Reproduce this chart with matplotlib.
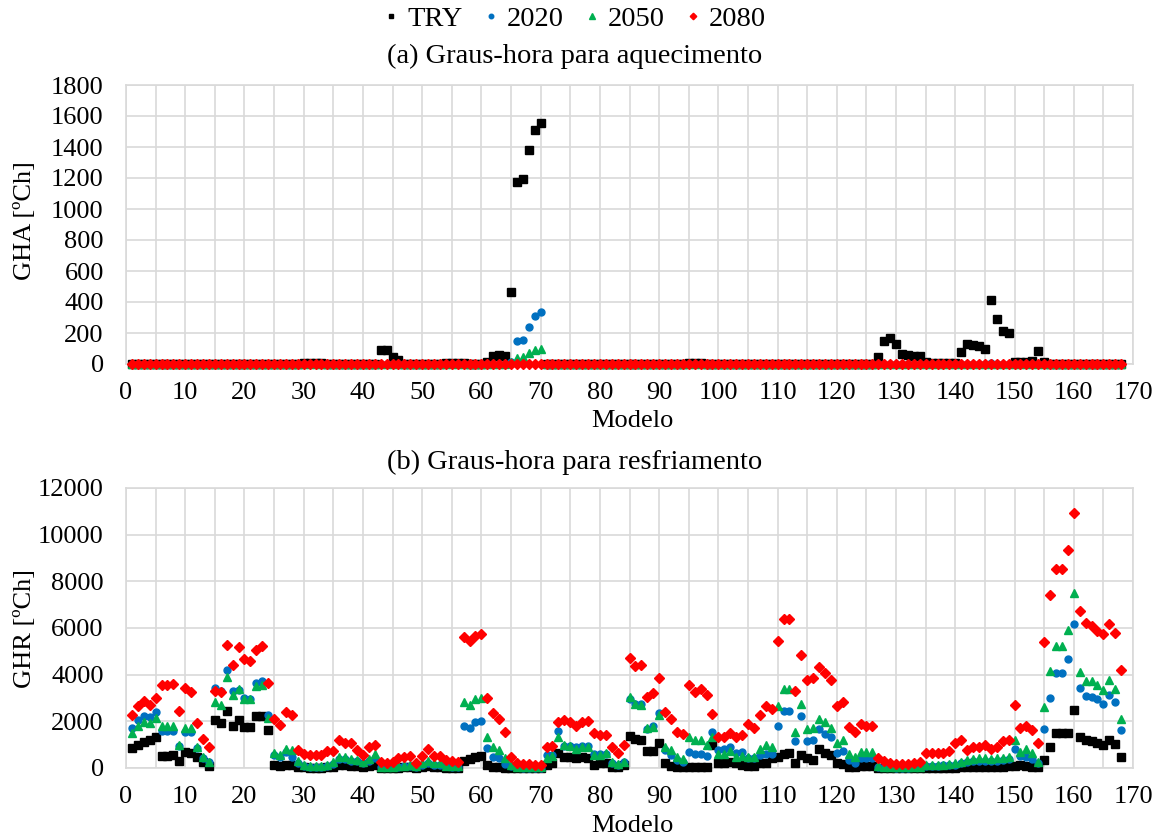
import numpy as np
import matplotlib
matplotlib.use("Agg")
import matplotlib.pyplot as plt
from matplotlib.ticker import MultipleLocator

plt.rcParams['font.family'] = ['Liberation Serif', 'DejaVu Serif']

# ---- data -------------------------------------------------------------
models = np.arange(1, 169)
series_names = ["TRY", "2020", "2050", "2080"]

# GHA (heating degree-hours) -- non-zero entries, all others are zero
gha_try_nonzero = {30: 8, 31: 8, 32: 8, 33: 8, 43: 93, 44: 93, 45: 43, 46: 28,
                   54: 5, 55: 5, 56: 5, 57: 5, 61: 10, 62: 50, 63: 60, 64: 50,
                   65: 463, 66: 1173, 67: 1195, 68: 1378, 69: 1507, 70: 1552,
                   95: 8, 96: 8, 97: 8,
                   127: 45, 128: 151, 129: 168, 130: 130, 131: 66, 132: 60,
                   133: 49, 134: 49, 135: 10, 136: 5, 137: 5, 138: 5, 139: 5,
                   140: 5, 141: 77, 142: 130, 143: 123, 144: 115, 145: 98,
                   146: 411, 147: 289, 148: 215, 149: 200, 150: 10, 151: 10,
                   152: 10, 153: 20, 154: 81, 155: 15}
gha_2020_nonzero = {65: 10, 66: 146, 67: 155, 68: 241, 69: 308, 70: 336, 146: 8}
gha_2050_nonzero = {65: 10, 66: 40, 67: 45, 68: 70, 69: 90, 70: 100}
gha_2080_nonzero = {}

# GHR (cooling degree-hours), models 1..168
ghr_try = [850, 990, 1110, 1210, 1320, 520, 520, 560, 300, 700,
           660, 490, 260, 90, 2070, 1930, 2460, 1810, 2070, 1760,
           1760, 2250, 2250, 1640, 130, 90, 130, 130, 60, 30,
           20, 20, 20, 40, 60, 150, 120, 100, 80, 50,
           80, 150, 10, 10, 10, 20, 30, 40, 10, 50,
           80, 40, 40, 20, 20, 20, 320, 370, 460, 520,
           130, 60, 30, 20, 10, 0, 0, 0, 0, 0,
           130, 200, 630, 490, 490, 420, 490, 420, 130, 200,
           230, 60, 30, 130, 1380, 1240, 1210, 710, 750, 1090,
           200, 90, 30, 30, 30, 30, 30, 30, 990, 230,
           230, 270, 200, 130, 90, 90, 200, 230, 420, 460,
           600, 660, 200, 560, 420, 350, 810, 630, 560, 200,
           170, 60, 30, 90, 90, 90, 10, 10, 10, 10,
           10, 10, 10, 10, 15, 15, 15, 15, 20, 20,
           30, 40, 40, 50, 50, 40, 50, 60, 70, 100,
           120, 100, 60, 40, 350, 880, 1500, 1500, 1500, 2480,
           1310, 1210, 1140, 1070, 990, 1210, 1020, 490]

ghr_2020 = [1710, 2040, 2220, 2190, 2400, 1570, 1570, 1570, 950, 1540,
            1540, 850, 450, 250, 3430, 3300, 4200, 3300, 3350, 3000,
            2950, 3650, 3710, 2270, 550, 480, 700, 490, 200, 80,
            50, 50, 50, 100, 180, 400, 380, 300, 280, 200,
            300, 450, 30, 30, 30, 50, 70, 100, 40, 150,
            230, 150, 150, 70, 50, 50, 1780, 1710, 1960, 2000,
            850, 460, 420, 170, 80, 30, 20, 20, 20, 20,
            560, 560, 1570, 950, 960, 900, 950, 950, 600, 600,
            600, 200, 150, 250, 2950, 2750, 2750, 1670, 1780, 2360,
            780, 560, 350, 270, 700, 590, 590, 520, 1530, 780,
            810, 920, 630, 700, 420, 420, 560, 600, 600, 1810,
            2430, 2430, 1170, 2250, 1170, 1210, 1670, 1470, 1310, 660,
            750, 350, 200, 420, 420, 420, 60, 40, 30, 20,
            20, 20, 30, 40, 80, 90, 90, 110, 130, 150,
            200, 250, 280, 300, 320, 300, 320, 350, 380, 810,
            520, 490, 370, 200, 1670, 3010, 4090, 4090, 4660, 6170,
            3440, 3080, 3050, 2940, 2750, 3110, 2820, 1640]

ghr_2050 = [1500, 1780, 1960, 1930, 2130, 1810, 1810, 1810, 990, 1710,
            1710, 920, 490, 270, 2820, 2720, 3900, 3110, 3370, 2960,
            2940, 3510, 3550, 2140, 660, 560, 810, 780, 300, 130,
            80, 80, 80, 150, 250, 490, 460, 370, 350, 270,
            400, 600, 50, 50, 50, 80, 100, 150, 80, 200,
            300, 200, 200, 100, 80, 80, 2820, 2680, 2960, 3010,
            1350, 920, 780, 420, 130, 50, 40, 40, 40, 40,
            420, 520, 1350, 990, 960, 810, 920, 920, 560, 560,
            630, 270, 170, 270, 3040, 2760, 2720, 1710, 1760, 2290,
            920, 780, 490, 370, 1350, 1180, 1180, 990, 1350, 600,
            600, 750, 490, 520, 490, 490, 810, 990, 890, 2650,
            3400, 3400, 1530, 2740, 1670, 1710, 2100, 1970, 1710, 1090,
            1210, 600, 490, 700, 700, 700, 100, 60, 40, 30,
            30, 30, 40, 60, 120, 130, 130, 150, 170, 200,
            270, 350, 400, 420, 430, 400, 430, 450, 480, 1210,
            700, 810, 630, 270, 2600, 4160, 5240, 5240, 5930, 7510,
            4120, 3730, 3730, 3540, 3340, 3770, 3400, 2100]

ghr_2080 = [2270, 2650, 2860, 2720, 3010, 3550, 3540, 3580, 2460, 3410,
            3270, 1910, 1250, 920, 3280, 3270, 5270, 4400, 5170, 4660,
            4590, 5070, 5240, 3660, 2100, 1830, 2400, 2270, 790, 590,
            550, 550, 550, 750, 710, 1180, 1070, 1070, 780, 560,
            890, 990, 270, 230, 270, 420, 460, 520, 230, 520,
            810, 520, 520, 350, 300, 270, 5600, 5430, 5640, 5740,
            3010, 2360, 2100, 1530, 460, 230, 170, 170, 130, 130,
            920, 960, 1970, 2040, 1970, 1780, 1970, 2000, 1500, 1410,
            1410, 920, 660, 990, 4700, 4390, 4400, 3050, 3220, 3840,
            2390, 2100, 1540, 1470, 3550, 3270, 3370, 3110, 2320, 1310,
            1310, 1500, 1310, 1430, 1900, 1710, 2270, 2650, 2530, 5450,
            6390, 6390, 3300, 4850, 3770, 3870, 4350, 4090, 3770, 2650,
            2820, 1740, 1530, 1890, 1810, 1780, 420, 320, 200, 170,
            170, 170, 230, 270, 660, 660, 660, 630, 710, 1070,
            1180, 780, 880, 920, 990, 810, 920, 1140, 1210, 2720,
            1710, 1810, 1610, 1070, 5380, 7400, 8520, 8520, 9340, 10950,
            6720, 6220, 6100, 5890, 5730, 6170, 5790, 4200]


def expand(nonzero):
    vals = np.zeros(len(models))
    for m, v in nonzero.items():
        vals[m - 1] = v
    return vals


gha = [expand(gha_try_nonzero), expand(gha_2020_nonzero),
       expand(gha_2050_nonzero), expand(gha_2080_nonzero)]
ghr = [np.array(ghr_try), np.array(ghr_2020), np.array(ghr_2050), np.array(ghr_2080)]

# ---- styling ----------------------------------------------------------
colors = ["#000000", "#0070C0", "#00B050", "#FF0000"]
markers = ["s", "o", "^", "D"]
msizes = [5.5, 5.0, 6.2, 5.1]
grid_c = "#D9D9D9"
fs = 19
fs_title = 20.5

W, H = 1166, 839
fig = plt.figure(figsize=(W / 100, H / 100), dpi=100)
ax_top = fig.add_axes([126 / W, 1 - 364 / H, 1007 / W, 279 / H])
ax_bot = fig.add_axes([126 / W, 1 - 768 / H, 1007 / W, 280 / H])


def style(ax, ymax, ystep):
    ax.set_xlim(0, 170)
    ax.set_ylim(0, ymax)
    ax.xaxis.set_major_locator(MultipleLocator(10))
    ax.xaxis.set_minor_locator(MultipleLocator(5))
    ax.yaxis.set_major_locator(MultipleLocator(ystep))
    ax.grid(which="both", axis="x", color=grid_c, lw=1.2)
    ax.grid(which="major", axis="y", color=grid_c, lw=1.2)
    ax.set_axisbelow(True)
    for sp in ax.spines.values():
        sp.set_color(grid_c)
        sp.set_linewidth(1.2)
    ax.tick_params(which="both", length=0, labelsize=fs)
    ax.tick_params(axis="x", pad=13)
    ax.tick_params(axis="y", pad=16)


handles = []
for ax, data in ((ax_top, gha), (ax_bot, ghr)):
    for name, vals, c, mk, ms in zip(series_names, data, colors, markers, msizes):
        h, = ax.plot(models, vals, linestyle="none", marker=mk, ms=ms,
                     color=c, mec=c, label=name, clip_on=False, zorder=3)
        if ax is ax_top:
            handles.append(h)

style(ax_top, 1800, 200)
style(ax_bot, 12000, 2000)

# axis titles
fig.text(25 / W, 1 - 221 / H, "GHA [ºCh]", rotation=90, ha="center", va="center", fontsize=fs)
fig.text(25 / W, 1 - 629 / H, "GHR [ºCh]", rotation=90, ha="center", va="center", fontsize=fs)
fig.text(632 / W, 1 - 421 / H, "Modelo", ha="center", va="center", fontsize=fs)
fig.text(632 / W, 1 - 826 / H, "Modelo", ha="center", va="center", fontsize=fs)

# panel titles
fig.text(575 / W, 1 - 56 / H, "(a) Graus-hora para aquecimento",
         ha="center", va="center", fontsize=fs_title)
fig.text(575 / W, 1 - 462 / H, "(b) Graus-hora para resfriamento",
         ha="center", va="center", fontsize=fs_title)

fig.legend(handles=handles, labels=series_names, loc="center",
           bbox_to_anchor=(575 / W, 1 - 19 / H), ncol=4, frameon=False,
           fontsize=fs_title, markerscale=0.65, handlelength=0.5,
           handletextpad=0.3, columnspacing=0.75,
           borderpad=0, borderaxespad=0)

fig.savefig("out.png", dpi=100)
